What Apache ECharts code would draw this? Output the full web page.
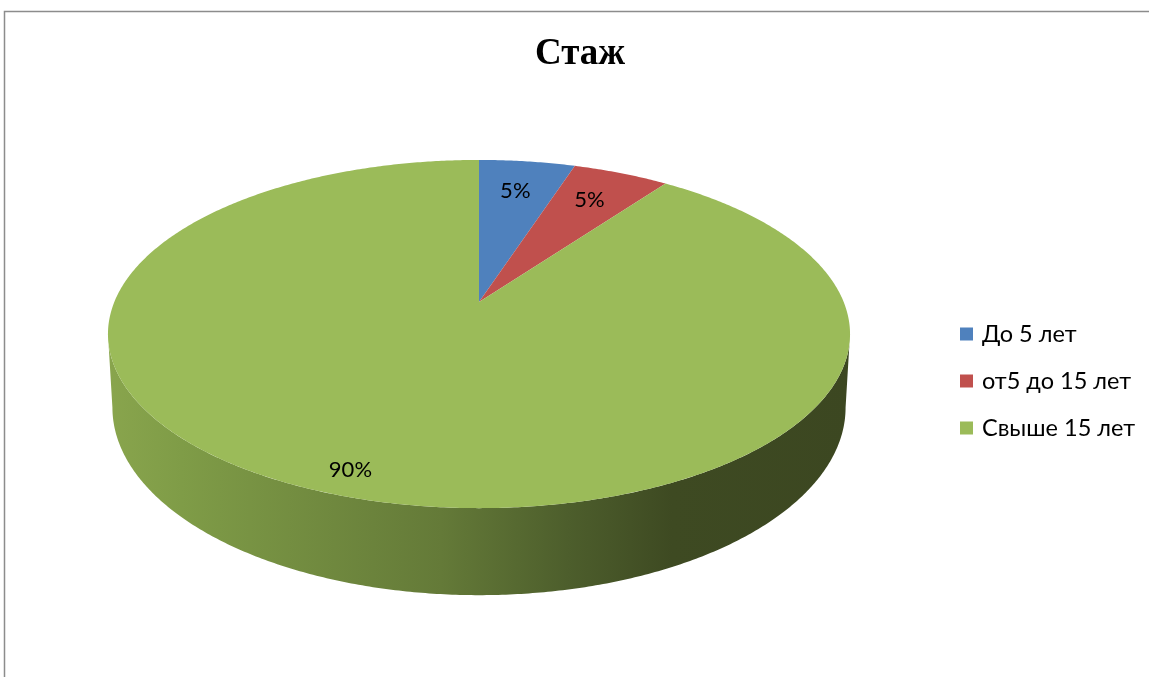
<!DOCTYPE html>
<html>
<head>
<meta charset="utf-8">
<script src="https://cdn.jsdelivr.net/npm/echarts@6/dist/echarts.min.js"></script>
<style>
html,body{margin:0;padding:0;background:#fff;}
#chart{width:1149px;height:677px;}
</style>
</head>
<body>
<div id="chart"></div>
<script>
// ---- data ----
const categories = ['До 5 лет', 'от5 до 15 лет', 'Свыше 15 лет'];
const values = [5, 5, 90];
const colors = ['#4f81bd', '#c0504d', '#9bbb59'];
const titleText = 'Стаж';

// ---- layout of the 3D pie (perspective projection) ----
const CX = 479, CY = 302;      // projected centre of the pie top
const A = 364.7, B = 168.2;    // horizontal / vertical scale
const P = 0.184;               // perspective factor
const H = 71;                  // thickness
const BOTTOM_SHRINK = 0.988;

function proj(r, t, h, shrink) {
  const u = r * Math.sin(t), v = r * Math.cos(t);
  const w = 1 + P * v;
  return [CX + (shrink || 1) * A * u / w, CY - B * v / w + h / w];
}

const total = values.reduce((a, b) => a + b, 0);
const thetaVis1 = Math.acos(-P), thetaVis2 = 2 * Math.PI - Math.acos(-P);

function arc(t0, t1, h, shrink) {
  const pts = [];
  const n = Math.max(2, Math.ceil(Math.abs(t1 - t0) / (Math.PI / 360)));
  for (let k = 0; k <= n; k++) {
    const t = t0 + (t1 - t0) * k / n;
    pts.push(proj(1, t, h, shrink));
  }
  return pts;
}

const sideGradient = new echarts.graphic.LinearGradient(107, 0, 850, 0, [
  { offset: 0, color: '#89a54d' },
  { offset: 0.10, color: '#7f9c47' },
  { offset: 0.45, color: '#647a38' },
  { offset: 0.62, color: '#4d5e2c' },
  { offset: 0.76, color: '#3e4a22' },
  { offset: 1, color: '#3c4721' }
], true);

function renderItem(params, api) {
  const i = params.dataIndex;
  let before = 0;
  for (let k = 0; k < i; k++) before += values[k];
  const v = api.value(0);
  const start = before / total * 2 * Math.PI;
  const end = (before + v) / total * 2 * Math.PI;
  const children = [];
  // visible side wall
  const a = Math.max(start, thetaVis1), b = Math.min(end, thetaVis2);
  if (a < b) {
    const top = arc(a, b, 0, 1);
    const bot = arc(b, a, H, BOTTOM_SHRINK);
    children.push({
      type: 'polygon',
      shape: { points: top.concat(bot) },
      style: { fill: i === values.length - 1 ? sideGradient : echarts.color.lift(colors[i], -0.4) }
    });
  }
  // top face
  const pts = [proj(0, 0, 0)].concat(arc(start, end, 0, 1));
  children.push({
    type: 'polygon',
    shape: { points: pts },
    style: { fill: colors[i] }
  });
  // label
  const big = v / total > 0.5;
  const mid = (start + end) / 2 + (big ? 0.025 : 0);
  const r = big ? 0.895 : 0.765;
  const lp = proj(r, mid, 0);
  children.push({
    type: 'text',
    x: lp[0] - (big ? 0 : 2), y: lp[1],
    style: {
      text: Math.round(v / total * 100) + '%',
      fill: '#000',
      font: '22px Lato',
      align: 'center',
      verticalAlign: 'middle'
    }
  });
  return { type: 'group', children: children };
}

const chart = echarts.init(document.getElementById('chart'), null, { renderer: 'canvas' });
chart.setOption({
  animation: false,
  backgroundColor: '#fff',
  color: colors,
  title: {
    text: titleText,
    left: 575, top: 31, textAlign: 'center',
    textStyle: { fontFamily: 'Liberation Serif', fontWeight: 'bold', fontSize: 37, color: '#000' }
  },
  legend: {
    orient: 'vertical',
    left: 955, top: 317,
    data: categories,
    icon: 'rect',
    itemWidth: 13, itemHeight: 13,
    itemGap: 23,
    selectedMode: false,
    textStyle: { fontFamily: 'Lato', fontSize: 23.5, color: '#000', padding: [0, 0, 0, 4] }
  },
  graphic: [{
    type: 'rect',
    shape: { x: 4.5, y: 11.5, width: 1300, height: 800 },
    style: { fill: 'none', stroke: '#8c8c8c', lineWidth: 1.5 },
    silent: true, z: 100
  }],
  series: [
    {
      type: 'custom',
      coordinateSystem: 'none',
      renderItem: renderItem,
      data: values.map((v, i) => ({ name: categories[i], value: v })),
      silent: true
    },
    {
      type: 'pie',
      radius: [0, 0],
      center: [-100, -100],
      label: { show: false },
      labelLine: { show: false },
      silent: true,
      data: values.map((v, i) => ({ name: categories[i], value: v }))
    }
  ]
});
</script>
</body>
</html>
